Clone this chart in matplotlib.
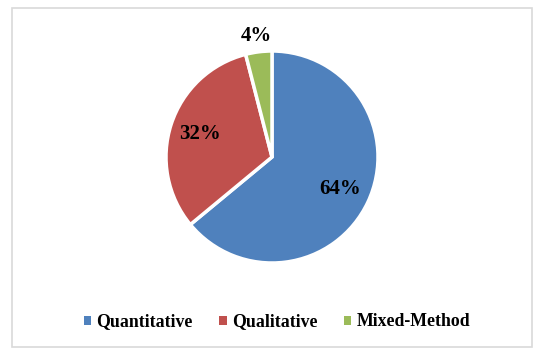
import matplotlib.pyplot as plt
from matplotlib.patches import Rectangle, Patch
import numpy as np

labels = ["Quantitative", "Qualitative", "Mixed-Method"]
shares = [64, 32, 4]
colors = ["#4F81BD", "#C0504D", "#9BBB59"]

plt.rcParams['font.family'] = ['Liberation Serif', 'DejaVu Serif']

W, H = 547, 358
fig = plt.figure(figsize=(W / 100, H / 100), dpi=100)

# outer frame like the office chart area
fig.patches.append(Rectangle((12 / W, 1 - 347 / H), 520 / W, 339 / H,
                             transform=fig.transFigure, fill=False,
                             edgecolor="#D9D9D9", linewidth=1.2))

cx, cy, r = 272, 157, 106
ax = fig.add_axes([(cx - r) / W, 1 - (cy + r) / H, 2 * r / W, 2 * r / H])
wedges, texts, autotexts = ax.pie(
    shares, colors=colors, startangle=90, counterclock=False,
    autopct="%d%%", pctdistance=0.71,
    wedgeprops=dict(edgecolor="white", linewidth=2.5),
    textprops=dict(fontsize=15, fontweight="bold", color="black"))

# small slice label sits outside the pie
w = wedges[2]
ang = np.deg2rad((w.theta1 + w.theta2) / 2)
autotexts[2].set_position((1.15 * np.cos(ang), 1.15 * np.sin(ang)))
for t in autotexts:
    t.set_clip_on(False)

ax.set_xlim(-1, 1)
ax.set_ylim(-1, 1)
ax.set_aspect("equal")
ax.axis("off")

handles = [Patch(facecolor=c, edgecolor="none") for c in colors]
fig.legend(handles, labels, loc="center", bbox_to_anchor=(277 / W, 1 - 322 / H),
           ncol=3, frameon=False, handlelength=0.4, handleheight=0.4,
           handletextpad=0.3, columnspacing=1.5,
           prop=dict(size=12.8, weight="bold"))

fig.savefig("out.png", dpi=100)
